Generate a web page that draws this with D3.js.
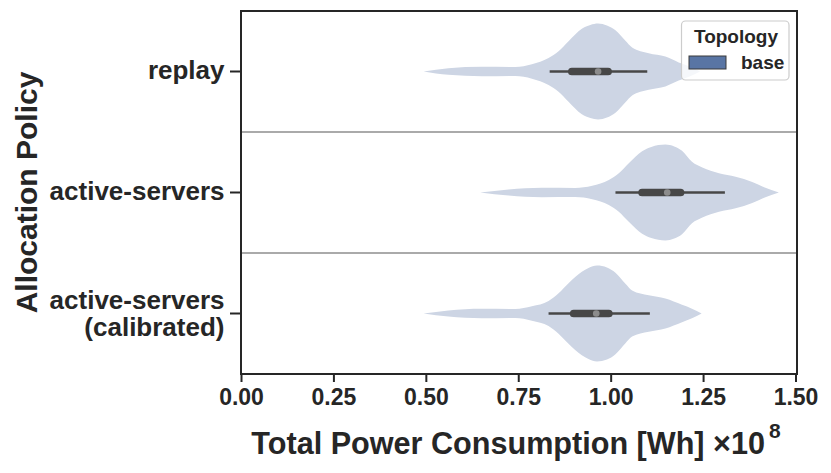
<!DOCTYPE html>
<html><head><meta charset="utf-8">
<script src="https://cdn.jsdelivr.net/npm/d3@7"></script>
<style>body{margin:0;background:#fff}svg{display:block;font-family:"Liberation Sans",Arial,sans-serif;font-weight:bold}</style>
</head><body><svg id="c" width="831" height="473"></svg>
<script>
// ---- data (values in units of 1e8 Wh) ----
const categories = ["replay", "active-servers", "active-servers\n(calibrated)"];
const xTicks = [0, 0.25, 0.5, 0.75, 1.0, 1.25, 1.5];
// violin outlines: value grid and relative density (1 = widest)
const replayGrid    = [0.494,0.561,0.652,0.742,0.787,0.832,0.859,0.886,0.922,0.945,0.966,0.990,1.013,1.040,1.058,1.103,1.148,1.184,1.215,1.242];
const replayDens    = [0,0.07,0.1,0.095,0.15,0.28,0.42,0.63,0.89,0.97,1.0,0.96,0.86,0.64,0.50,0.38,0.31,0.19,0.10,0];
const activeGrid    = [0.647,0.724,0.814,0.904,0.950,0.995,1.022,1.049,1.085,1.110,1.148,1.172,1.193,1.220,1.248,1.293,1.338,1.383,1.415,1.455];
const activeDens    = [0,0.065,0.1,0.095,0.14,0.26,0.40,0.61,0.86,0.95,1.0,0.96,0.87,0.64,0.52,0.40,0.33,0.22,0.11,0];
const calibGrid     = [0.494,0.561,0.652,0.742,0.787,0.832,0.859,0.886,0.922,0.940,0.963,0.990,1.013,1.040,1.058,1.103,1.148,1.193,1.220,1.246];
const calibDens     = [0,0.065,0.1,0.095,0.15,0.26,0.42,0.63,0.87,0.95,1.0,0.96,0.85,0.62,0.48,0.38,0.31,0.18,0.10,0];
// box stats: [whiskerLow, q1, median, q3, whiskerHigh]
const replayStats = [0.835, 0.895, 0.966, 0.993, 1.099];
const activeStats = [1.013, 1.085, 1.153, 1.189, 1.309];
const calibStats  = [0.832, 0.900, 0.961, 0.995, 1.106];
const legendTitle = "Topology";
const legendLabels = ["base"];

const violins = [
  {cat: categories[0], grid: replayGrid, dens: replayDens, stats: replayStats},
  {cat: categories[1], grid: activeGrid, dens: activeDens, stats: activeStats},
  {cat: categories[2], grid: calibGrid,  dens: calibDens,  stats: calibStats}
];

const svg = d3.select("#c");
const L = 241, R = 797, T = 11, B = 374;
const x = d3.scaleLinear().domain([0, 1.5]).range([L, 795.5]);
const y = d3.scaleBand().domain(categories).range([T, B]).padding(0);
const w = d3.scaleLinear().domain([0, 1]).range([0, 48]);

svg.append("rect").attr("width", 831).attr("height", 473).attr("fill", "#fff");

// separators
svg.selectAll("line.sep").data(categories.slice(1)).join("line")
  .attr("x1", L).attr("x2", R)
  .attr("y1", d => y(d)).attr("y2", d => y(d))
  .attr("stroke", "#8e8e8e").attr("stroke-width", 1.6);

// violins
violins.forEach(v => {
  const cy = y(v.cat) + y.bandwidth() / 2;
  const pts = v.grid.map((g, i) => [g, v.dens[i]]);
  const area = d3.area().curve(d3.curveMonotoneX)
    .x(d => x(d[0])).y0(d => cy - w(d[1])).y1(d => cy + w(d[1]));
  svg.append("path").attr("d", area(pts)).attr("fill", "rgb(205,213,228)");
  const s = v.stats;
  svg.append("line").attr("x1", x(s[0])).attr("x2", x(s[4])).attr("y1", cy).attr("y2", cy)
    .attr("stroke", "#474747").attr("stroke-width", 2.7);
  svg.append("line").attr("x1", x(s[1])).attr("x2", x(s[3])).attr("y1", cy).attr("y2", cy)
    .attr("stroke", "#474747").attr("stroke-width", 7.7).attr("stroke-linecap", "round");
  svg.append("circle").attr("cx", x(s[2])).attr("cy", cy).attr("r", 3.3).attr("fill", "#8c8c8c");
});

// x axis
const xa = svg.append("g").attr("transform", `translate(0,${B})`)
  .call(d3.axisBottom(x).tickValues(xTicks).tickFormat(d3.format(".2f")).tickSize(8).tickPadding(4));
xa.select(".domain").remove();
xa.selectAll("line").attr("stroke", "#262626").attr("stroke-width", 2);
xa.selectAll("text").attr("font-size", 23).attr("fill", "#262626").attr("dy", null).attr("y", 31)
  .attr("font-family", "Liberation Sans, Arial, sans-serif").attr("font-weight", "bold");

// y axis
const ya = svg.append("g").attr("transform", `translate(${L},0)`)
  .call(d3.axisLeft(y).tickSize(11).tickPadding(6));
ya.select(".domain").remove();
ya.selectAll("line").attr("stroke", "#262626").attr("stroke-width", 2);
ya.selectAll("text").each(function(d) {
  const t = d3.select(this).text("").attr("font-size", 26).attr("fill", "#262626")
    .attr("font-family", "Liberation Sans, Arial, sans-serif").attr("font-weight", "bold")
    .attr("dy", null);
  const lines = d.split("\n");
  const lh = 27.5;
  lines.forEach((ln, i) => {
    const first = 7.3 - (lines.length - 1) * lh / 2 + (lines.length > 1 ? 1.5 : 0);
    t.append("tspan").attr("x", -16.5).attr("dy", i === 0 ? first : lh).text(ln);
  });
});

// frame
svg.append("rect").attr("x", L).attr("y", T).attr("width", R - L).attr("height", B - T)
  .attr("fill", "none").attr("stroke", "#262626").attr("stroke-width", 2);

// titles
const xt = svg.append("text").attr("x", 516).attr("y", 453.5).attr("text-anchor", "middle")
  .attr("font-size", 30.6).attr("fill", "#262626");
xt.append("tspan").text("Total Power Consumption [Wh] \u00d710");
xt.append("tspan").attr("font-size", 21).attr("dx", 4).attr("dy", -16).text("8");

svg.append("text").attr("transform", `translate(37,${(T + B) / 2}) rotate(-90)`)
  .attr("text-anchor", "middle").attr("font-size", 30).attr("fill", "#262626")
  .text("Allocation Policy");

// legend
const lg = svg.append("g");
lg.append("rect").attr("x", 681.5).attr("y", 21).attr("width", 107.5).attr("height", 59).attr("rx", 4)
  .attr("fill", "#fff").attr("fill-opacity", 0.8).attr("stroke", "#cccccc").attr("stroke-width", 1.2);
lg.append("text").attr("x", 736).attr("y", 43).attr("text-anchor", "middle").attr("font-size", 19)
  .attr("fill", "#262626").text(legendTitle);
legendLabels.forEach((lab, i) => {
  lg.append("rect").attr("x", 689).attr("y", 56 + i * 22).attr("width", 37).attr("height", 13)
    .attr("fill", "#5975a4").attr("stroke", "#3a3a3a").attr("stroke-width", 1);
  lg.append("text").attr("x", 741).attr("y", 68.5 + i * 22).attr("font-size", 19)
    .attr("fill", "#262626").text(lab);
});
</script></body></html>
